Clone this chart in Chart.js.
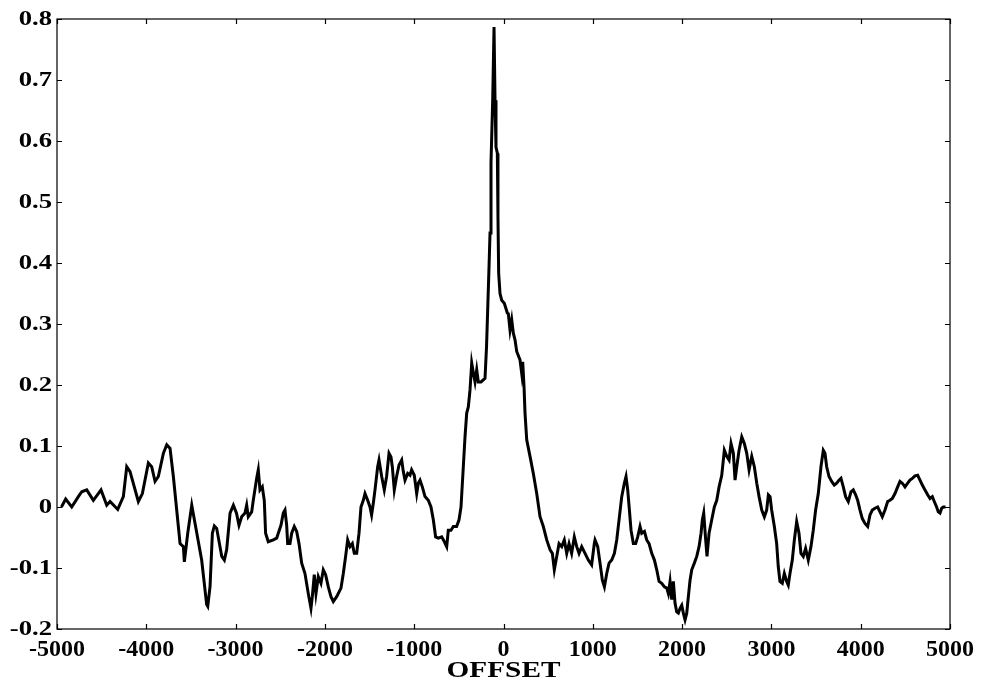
<!DOCTYPE html>
<html>
<head>
<meta charset="utf-8">
<script src="https://cdn.jsdelivr.net/npm/chart.js@4.4.1/dist/chart.umd.min.js"></script>
<style>
  html, body { margin: 0; padding: 0; background: #fff; }
  #wrap { width: 981px; height: 694px; }
</style>
</head>
<body>
<div id="wrap"><canvas id="c" width="981" height="694"></canvas></div>
<script>
// Correlation trace against offset
const offsets = [
  -4950, -4940, -4903, -4835, -4761, -4723, -4667, -4593, -4507, -4443, -4406, -4320, -4257, -4219, -4182,
  -4089, -4044, -3977, -3940, -3902, -3865, -3809, -3771, -3734, -3697, -3641, -3622, -3585, -3574, -3536,
  -3491, -3454, -3380, -3324, -3312, -3286, -3260, -3238, -3212, -3155, -3126, -3100, -3062, -3025, -2990,
  -2962, -2932, -2895, -2876, -2858, -2820, -2802, -2764, -2746, -2727, -2701, -2679, -2664, -2634, -2578,
  -2540, -2522, -2492, -2466, -2447, -2428, -2417, -2391, -2372, -2343, -2316, -2290, -2260, -2223, -2186,
  -2156, -2141, -2119, -2100, -2074, -2044, -2018, -1992, -1962, -1932, -1906, -1868, -1820, -1794, -1768,
  -1745, -1719, -1693, -1671, -1644, -1618, -1596, -1570, -1551, -1521, -1495, -1477, -1458, -1439, -1409,
  -1394, -1364, -1335, -1309, -1282, -1260, -1245, -1223, -1197, -1170, -1140, -1122, -1103, -1073, -1047,
  -1029, -999, -972, -954, -935, -909, -879, -842, -812, -786, -760, -730, -692, -662, -636,
  -618, -588, -562, -525, -498, -476, -450, -431, -412, -394, -375, -356, -338, -319, -300,
  -282, -252, -207, -190, -162, -151, -140, -121, -106, -95, -84, -69, -62, -54, -39,
  -20, 9, 43, 54, 73, 92, 110, 129, 148, 185, 204, 215, 230, 241, 260,
  297, 334, 372, 409, 446, 484, 521, 547, 569, 596, 622, 652, 681, 708, 734,
  763, 793, 820, 846, 876, 913, 950, 987, 1017, 1025, 1055, 1081, 1107, 1130, 1156,
  1182, 1212, 1242, 1268, 1294, 1324, 1353, 1372, 1391, 1410, 1428, 1454, 1480, 1503, 1529,
  1548, 1578, 1604, 1630, 1660, 1690, 1716, 1742, 1772, 1802, 1828, 1846, 1865, 1884, 1902,
  1921, 1940, 1958, 1977, 1996, 2014, 2033, 2052, 2070, 2089, 2108, 2137, 2164, 2190, 2212,
  2227, 2242, 2264, 2279, 2302, 2332, 2361, 2388, 2414, 2444, 2473, 2500, 2526, 2548, 2574,
  2593, 2612, 2638, 2668, 2697, 2724, 2750, 2780, 2809, 2836, 2862, 2892, 2921, 2947, 2966,
  2985, 3003, 3033, 3059, 3077, 3096, 3122, 3145, 3171, 3189, 3208, 3234, 3257, 3283, 3309,
  3331, 3357, 3383, 3413, 3443, 3469, 3495, 3525, 3555, 3581, 3600, 3619, 3645, 3675, 3704,
  3731, 3757, 3779, 3805, 3831, 3861, 3891, 3917, 3943, 3966, 3992, 4018, 4048, 4078, 4104,
  4130, 4160, 4190, 4216, 4242, 4272, 4302, 4328, 4354, 4384, 4414, 4440, 4466, 4496, 4526,
  4552, 4578, 4608, 4638, 4664, 4690, 4720, 4750, 4776, 4802, 4824, 4850, 4869, 4888, 4907,
  4925, 4950
];

const values = [
  0.0, 0.003, 0.013, 0.0, 0.017, 0.025, 0.028, 0.011, 0.028, 0.003, 0.009, -0.004, 0.017, 0.066, 0.058,
  0.009, 0.022, 0.072, 0.066, 0.042, 0.05, 0.088, 0.102, 0.096, 0.05, -0.032, -0.06, -0.065, -0.09, -0.043,
  0.003, -0.027, -0.087, -0.16, -0.163, -0.13, -0.043, -0.031, -0.035, -0.081, -0.087, -0.07, -0.01, 0.003, -0.01,
  -0.03, -0.016, -0.01, 0.003, -0.016, -0.008, 0.011, 0.047, 0.061, 0.028, 0.033, 0.011, -0.043, -0.057, -0.054,
  -0.051, -0.043, -0.03, -0.01, -0.005, -0.03, -0.06, -0.06, -0.043, -0.032, -0.04, -0.06, -0.092, -0.109, -0.142,
  -0.166, -0.147, -0.111, -0.142, -0.114, -0.125, -0.103, -0.111, -0.131, -0.147, -0.155, -0.147, -0.133, -0.109, -0.081,
  -0.054, -0.065, -0.06, -0.076, -0.076, -0.043, 0.0, 0.011, 0.022, 0.011, 0.0, -0.013, 0.006, 0.028, 0.066,
  0.077, 0.05, 0.028, 0.05, 0.088, 0.082, 0.066, 0.028, 0.05, 0.069, 0.077, 0.058, 0.044, 0.055, 0.052,
  0.061, 0.052, 0.022, 0.039, 0.044, 0.033, 0.017, 0.011, 0.0, -0.021, -0.049, -0.051, -0.049, -0.057, -0.065,
  -0.038, -0.038, -0.032, -0.032, -0.021, 0.0, 0.066, 0.115, 0.154, 0.164, 0.192, 0.236, 0.22, 0.205, 0.225,
  0.205, 0.205, 0.211, 0.263, 0.394, 0.449, 0.564, 0.667, 0.787, 0.667, 0.59, 0.58, 0.476, 0.383, 0.35,
  0.339, 0.334, 0.318, 0.317, 0.29, 0.307, 0.285, 0.274, 0.255, 0.241, 0.219, 0.238, 0.197, 0.154, 0.11,
  0.083, 0.055, 0.022, -0.016, -0.032, -0.054, -0.07, -0.076, -0.103, -0.081, -0.06, -0.065, -0.054, -0.076, -0.06,
  -0.076, -0.049, -0.065, -0.076, -0.065, -0.076, -0.087, -0.095, -0.06, -0.054, -0.065, -0.092, -0.12, -0.131, -0.109,
  -0.092, -0.087, -0.076, -0.054, -0.021, 0.017, 0.039, 0.05, 0.028, -0.005, -0.038, -0.06, -0.06, -0.049, -0.032,
  -0.043, -0.04, -0.054, -0.06, -0.076, -0.087, -0.103, -0.122, -0.125, -0.131, -0.133, -0.142, -0.122, -0.152, -0.122,
  -0.158, -0.172, -0.174, -0.166, -0.161, -0.174, -0.185, -0.174, -0.147, -0.12, -0.103, -0.092, -0.081, -0.065, -0.043,
  -0.021, -0.01, -0.054, -0.081, -0.043, -0.021, 0.0, 0.011, 0.033, 0.052, 0.093, 0.083, 0.077, 0.104, 0.088,
  0.044, 0.066, 0.093, 0.115, 0.104, 0.088, 0.061, 0.083, 0.066, 0.039, 0.017, -0.005, -0.016, -0.005, 0.02,
  0.017, -0.005, -0.032, -0.06, -0.098, -0.122, -0.125, -0.109, -0.122, -0.128, -0.109, -0.087, -0.054, -0.024, -0.043,
  -0.076, -0.081, -0.068, -0.087, -0.065, -0.038, -0.005, 0.022, 0.066, 0.093, 0.088, 0.066, 0.05, 0.042, 0.036,
  0.039, 0.044, 0.047, 0.033, 0.017, 0.009, 0.025, 0.028, 0.02, 0.011, -0.005, -0.019, -0.027, -0.032, -0.013,
  -0.005, -0.002, 0.0, -0.008, -0.016, -0.005, 0.009, 0.011, 0.014, 0.022, 0.033, 0.042, 0.039, 0.033, 0.039,
  0.044, 0.047, 0.051, 0.052, 0.044, 0.036, 0.028, 0.02, 0.014, 0.017, 0.009, 0.0, -0.008, -0.01, -0.002,
  0.0, 0.0
];

const xTickLabels = ['-5000', '-4000', '-3000', '-2000', '-1000', '0', '1000', '2000', '3000', '4000', '5000'];
const yTickLabels = ['-0.2', '-0.1', '0', '0.1', '0.2', '0.3', '0.4', '0.5', '0.6', '0.7', '0.8'];
const xTitle = 'OFFSET';

const points = offsets.map((x, i) => ({ x: x, y: values[i] }));

const FONT = '"Liberation Serif", "Times New Roman", serif';
Chart.defaults.font.family = FONT;
Chart.defaults.font.weight = 'bold';
Chart.defaults.color = '#000';

// Draws text squeezed/stretched horizontally around its anchor point
function wideText(ctx, text, x, y, sx, align) {
  ctx.save();
  ctx.translate(x, y);
  ctx.scale(sx, 1);
  ctx.textAlign = align;
  ctx.fillText(text, 0, 0);
  ctx.restore();
}

// Box frame with short inward ticks on all four sides, plus the
// wide-set y labels and axis title
const frameTicks = {
  id: 'frameTicks',
  afterDraw(chart) {
    const { ctx, chartArea: a, scales } = chart;
    const len = 5;
    ctx.save();
    ctx.strokeStyle = '#000';
    ctx.lineWidth = 1.2;
    ctx.strokeRect(a.left, a.top, a.right - a.left, a.bottom - a.top);
    ctx.beginPath();
    scales.x.ticks.forEach(t => {
      const px = Math.round(scales.x.getPixelForValue(t.value)) + 0.5;
      ctx.moveTo(px, a.bottom); ctx.lineTo(px, a.bottom - len);
      ctx.moveTo(px, a.top); ctx.lineTo(px, a.top + len);
    });
    scales.y.ticks.forEach(t => {
      const py = Math.round(scales.y.getPixelForValue(t.value)) + 0.5;
      ctx.moveTo(a.left, py); ctx.lineTo(a.left + len, py);
      ctx.moveTo(a.right, py); ctx.lineTo(a.right - len, py);
    });
    ctx.stroke();

    ctx.fillStyle = '#000';
    ctx.textBaseline = 'middle';
    ctx.font = 'bold 21px ' + FONT;
    scales.y.ticks.forEach((t, i) => {
      wideText(ctx, yTickLabels[i], a.left - 5, scales.y.getPixelForValue(t.value) + 1, 1.27, 'right');
    });
    ctx.font = 'bold 24px ' + FONT;
    wideText(ctx, xTitle, (a.left + a.right) / 2, 671, 1.22, 'center');
    ctx.restore();
  }
};

new Chart(document.getElementById('c'), {
  type: 'line',
  data: {
    datasets: [{
      data: points,
      borderColor: '#000',
      borderWidth: 3,
      pointRadius: 0,
      tension: 0,
      fill: false
    }]
  },
  options: {
    responsive: false,
    animation: false,
    layout: { padding: { top: 19, right: 31, left: 0, bottom: 0 } },
    plugins: { legend: { display: false }, tooltip: { enabled: false } },
    scales: {
      x: {
        type: 'linear',
        min: -5000, max: 5000,
        border: { display: false },
        grid: { display: false, drawTicks: false },
        afterBuildTicks: s => { s.ticks = xTickLabels.map(l => ({ value: Number(l) })); },
        afterFit: s => { s.height = 65; },
        ticks: {
          autoSkip: false, maxRotation: 0, padding: 6,
          font: { size: 24, weight: 'bold' },
          callback: (v, i) => xTickLabels[i]
        },
        title: { display: false, text: xTitle }
      },
      y: {
        type: 'linear',
        min: -0.2, max: 0.8,
        border: { display: false },
        grid: { display: false, drawTicks: false },
        afterBuildTicks: s => { s.ticks = yTickLabels.map(l => ({ value: Number(l) })); },
        afterFit: s => { s.width = 57; },
        ticks: { display: false }
      }
    }
  },
  plugins: [frameTicks]
});
</script>
</body>
</html>
